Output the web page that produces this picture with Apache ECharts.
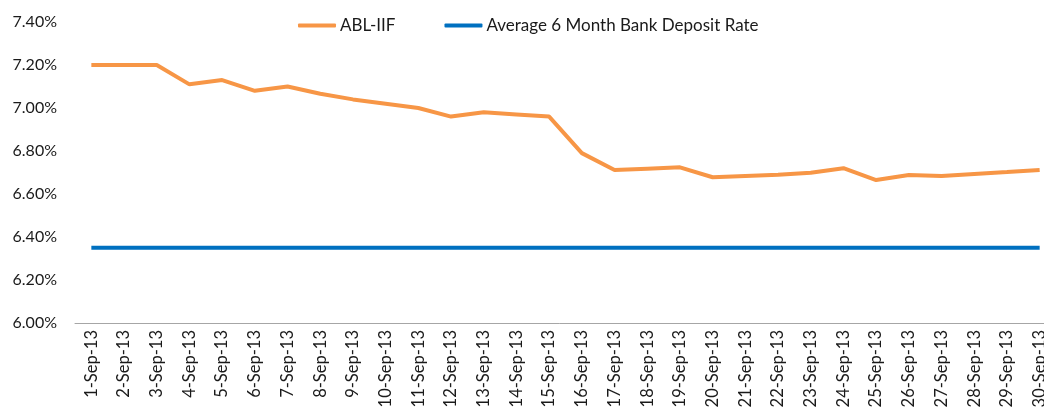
<!DOCTYPE html>
<html>
<head>
<meta charset="utf-8">
<script src="https://cdn.jsdelivr.net/npm/echarts@6/dist/echarts.min.js"></script>
<style>
  html, body { margin: 0; padding: 0; background: #fff; }
  #chart { width: 1044px; height: 409px; }
</style>
</head>
<body>
<div id="chart"></div>
<script>
const dates = ['1-Sep-13', '2-Sep-13', '3-Sep-13', '4-Sep-13', '5-Sep-13', '6-Sep-13', '7-Sep-13', '8-Sep-13',
  '9-Sep-13', '10-Sep-13', '11-Sep-13', '12-Sep-13', '13-Sep-13', '14-Sep-13', '15-Sep-13', '16-Sep-13',
  '17-Sep-13', '18-Sep-13', '19-Sep-13', '20-Sep-13', '21-Sep-13', '22-Sep-13', '23-Sep-13', '24-Sep-13',
  '25-Sep-13', '26-Sep-13', '27-Sep-13', '28-Sep-13', '29-Sep-13', '30-Sep-13']

// percent values
const ablIif = [7.20, 7.20, 7.20, 7.11, 7.13, 7.08, 7.10, 7.066, 7.04, 7.02, 7.00, 6.96, 6.98, 6.97, 6.96, 6.79,
  6.712, 6.718, 6.724, 6.678, 6.684, 6.69, 6.699, 6.72, 6.665, 6.688, 6.684, 6.693, 6.702, 6.712]
const depositRate = [6.35, 6.35, 6.35, 6.35, 6.35, 6.35, 6.35, 6.35, 6.35, 6.35, 6.35, 6.35, 6.35, 6.35, 6.35,
  6.35, 6.35, 6.35, 6.35, 6.35, 6.35, 6.35, 6.35, 6.35, 6.35, 6.35, 6.35, 6.35, 6.35, 6.35]

const yMin = 6.0
const yMax = 7.4
const yStep = 0.2

const font = 'Lato, "Open Sans", sans-serif'
const chart = echarts.init(document.getElementById('chart'))

const option = {
  animation: false,
  textStyle: { fontFamily: font },
  legend: {
    top: 12,
    left: 293,
    itemWidth: 38,
    itemHeight: 4,
    itemGap: 49,
    textStyle: { fontFamily: font, fontSize: 17, color: '#1a1a1a', padding: [0, 0, 0, -1] },
    data: [
      { name: 'ABL-IIF', icon: 'roundRect' },
      { name: 'Average 6 Month Bank Deposit Rate', icon: 'roundRect' }
    ]
  },
  // plot runs a little past the right edge, as in the source picture
  grid: {
    left: 75,
    width: 981,
    top: 22,
    bottom: 86,
    containLabel: false,
    outerBoundsMode: 'none'
  },
  xAxis: {
    type: 'category',
    boundaryGap: true,
    data: dates,
    axisLine: { lineStyle: { color: '#a6a6a6', width: 1 } },
    axisTick: { interval: 0, length: 5, lineStyle: { color: '#a6a6a6' } },
    axisLabel: {
      interval: 0,
      rotate: 90,
      margin: 7,
      fontFamily: font,
      fontSize: 16.5,
      color: '#1a1a1a'
    }
  },
  yAxis: {
    type: 'value',
    min: yMin,
    max: yMax,
    interval: yStep,
    axisLine: { show: false },
    axisTick: { show: false },
    splitLine: { show: false },
    axisLabel: {
      margin: 18,
      fontFamily: font,
      fontSize: 16,
      color: '#1a1a1a',
      formatter: v => v.toFixed(2) + '%'
    }
  },
  series: [
    {
      name: 'ABL-IIF',
      type: 'line',
      data: ablIif,
      symbol: 'none',
      color: '#F79646',
      lineStyle: { width: 4, color: '#F79646' }
    },
    {
      name: 'Average 6 Month Bank Deposit Rate',
      type: 'line',
      data: depositRate,
      symbol: 'none',
      color: '#0070C0',
      lineStyle: { width: 4, color: '#0070C0' }
    }
  ]
}

chart.setOption(option)
</script>
</body>
</html>
